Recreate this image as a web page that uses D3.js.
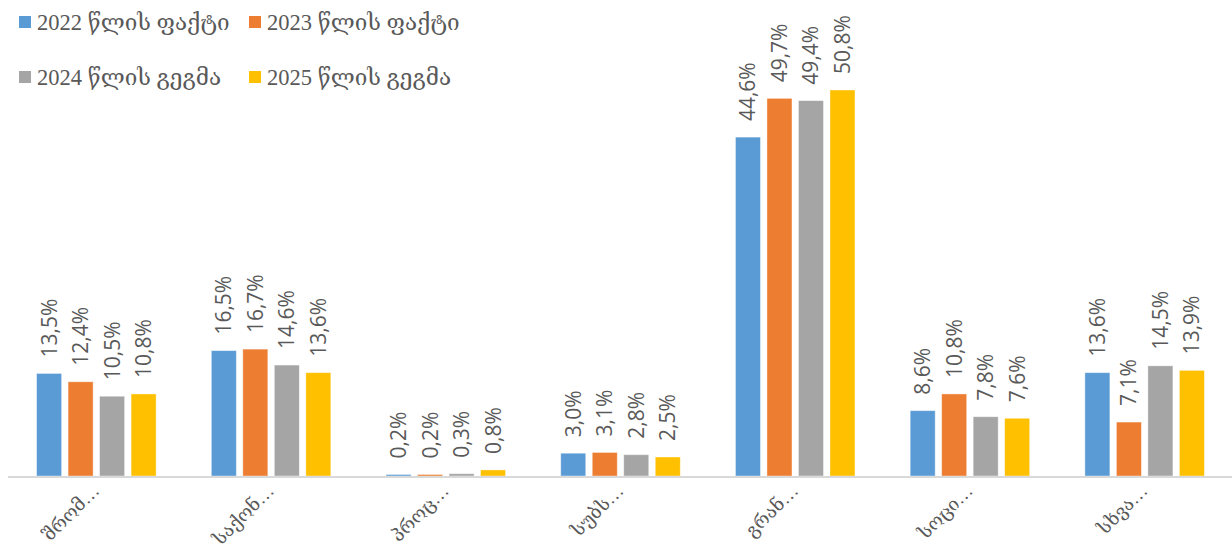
<!DOCTYPE html>
<html>
<head>
<meta charset="utf-8">
<script src="https://cdn.jsdelivr.net/npm/d3@7"></script>
<style>
  html, body { margin: 0; padding: 0; background: #ffffff; }
  svg text { font-family: "Open Sans", "DejaVu Sans", sans-serif; fill: #595959; }
  svg text.serif { font-family: "Liberation Serif", "DejaVu Serif", serif; }
</style>
</head>
<body>
<svg id="chart" width="1232" height="550"></svg>
<script>
const categories = ["შრომ…", "საქონ…", "პროც…", "სუბს…", "გრან…", "სოცი…", "სხვა…"];
const seriesNames = ["2022 წლის ფაქტი", "2023 წლის ფაქტი", "2024 წლის გეგმა", "2025 წლის გეგმა"];
const seriesColors = ["#5B9BD5", "#ED7D31", "#A5A5A5", "#FFC000"];
const values2022 = [13.5, 16.5, 0.2, 3.0, 44.6, 8.6, 13.6];
const values2023 = [12.4, 16.7, 0.2, 3.1, 49.7, 10.8, 7.1];
const values2024 = [10.5, 14.6, 0.3, 2.8, 49.4, 7.8, 14.5];
const values2025 = [10.8, 13.6, 0.8, 2.5, 50.8, 7.6, 13.9];
const seriesValues = [values2022, values2023, values2024, values2025];

const svg = d3.select("#chart");
const baseY = 476;
const plotLeft = 9, plotRight = 1232;

const x0 = d3.scaleBand().domain(categories).range([plotLeft, plotRight]).padding(0);
const x1 = d3.scaleBand().domain(d3.range(seriesNames.length))
  .range([27.6, x0.bandwidth() - 27.6]).paddingInner(0.206).paddingOuter(0);
const y = d3.scaleLinear().domain([0, 50.8]).range([baseY, 90]);

const fmt = v => d3.format(".1f")(v).replace(".", ",") + "%";

const data = [];
categories.forEach((c, ci) => {
  seriesValues.forEach((arr, si) => data.push({ c, si, v: arr[ci] }));
});

// bars
svg.append("g").selectAll("rect").data(data).join("rect")
  .attr("x", d => x0(d.c) + x1(d.si))
  .attr("y", d => y(d.v))
  .attr("width", x1.bandwidth())
  .attr("height", d => baseY - y(d.v))
  .attr("fill", d => seriesColors[d.si])
  .attr("stroke", "#ffffff")
  .attr("stroke-opacity", 0.5)
  .attr("stroke-width", 0.8);

// axis line
const xAxis = d3.axisBottom(x0).tickSize(0).tickFormat("");
const axG = svg.append("g").attr("transform", `translate(0,${baseY + 1})`).call(xAxis);
axG.select(".domain").attr("stroke", "#D9D9D9").attr("stroke-width", 2)
  .attr("d", `M${plotLeft - 1},0H${plotRight}`);

// value labels
svg.append("g").selectAll("text").data(data).join("text")
  .attr("transform", d => {
    const cx = x0(d.c) + x1(d.si) + x1.bandwidth() / 2 + 7.5;
    const cy = y(d.v) - 16;
    return `translate(${cx},${cy}) rotate(-90)`;
  })
  .attr("text-anchor", "start")
  .style("font-size", "21px")
  .text(d => fmt(d.v));

// category labels
svg.append("g").selectAll("text").data(categories).join("text")
  .attr("class", "serif")
  .attr("transform", d => `translate(${x0(d) + x0.bandwidth() / 2 + 4},${492}) rotate(-45)`)
  .attr("text-anchor", "end")
  .style("font-size", "18.5px")
  .text(d => d);

// legend
const legendPos = [[19, 30], [249, 30], [19, 85], [249, 85]];
const lg = svg.append("g").selectAll("g").data(seriesNames).join("g")
  .attr("transform", (d, i) => `translate(${legendPos[i][0]},${legendPos[i][1]})`);
lg.append("rect").attr("x", 0).attr("y", -14).attr("width", 12).attr("height", 12)
  .attr("fill", (d, i) => seriesColors[i]);
lg.append("text").attr("class", "serif").attr("x", 18).attr("y", 0)
  .style("font-size", "22.5px").text(d => d);
</script>
</body>
</html>
